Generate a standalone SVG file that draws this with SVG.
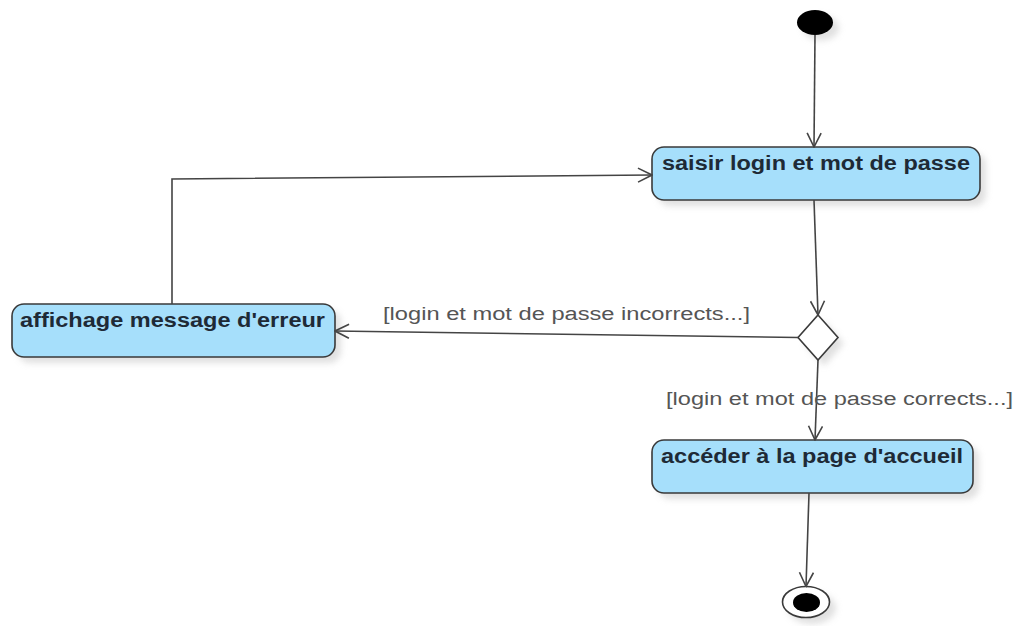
<svg xmlns="http://www.w3.org/2000/svg" width="1019" height="626" viewBox="0 0 1019 626">
  <style>
    .act { fill: #a6dffb; stroke: #3a3a3a; stroke-width: 1.6; }
    .shadow { fill: #c8c8c8; opacity: 0.55; filter: url(#soft); }
    .lbl { font-family: "Liberation Sans", Arial, sans-serif; font-weight: bold; font-size: 20px; fill: #1e2a36; }
    .guard { font-family: "Liberation Sans", Arial, sans-serif; font-size: 18px; fill: #555; }
    .edge { fill: none; stroke: #444; stroke-width: 1.6; marker-end: url(#open); }
  </style>
  <defs>
    <filter id="soft" x="-20%" y="-50%" width="140%" height="200%">
      <feGaussianBlur stdDeviation="3"/>
    </filter>
    <marker id="open" viewBox="0 0 16 16" refX="15" refY="8" markerWidth="16" markerHeight="16" markerUnits="userSpaceOnUse" orient="auto">
      <path d="M1 1 L15 8 L1 15" fill="none" stroke="#444" stroke-width="1.6"/>
    </marker>
  </defs>

  <!-- start node -->
  <g id="start">
    <ellipse class="shadow" cx="821" cy="28" rx="18" ry="12.5"/>
    <ellipse cx="815" cy="22.5" rx="18" ry="12.5" fill="#000"/>
  </g>

  <!-- activity: enter credentials -->
  <g id="saisir">
    <rect class="shadow" x="658" y="153" width="328" height="53" rx="12"/>
    <rect class="act" x="652" y="147" width="328" height="53" rx="12"/>
    <text class="lbl" x="662" y="170" textLength="308" lengthAdjust="spacingAndGlyphs">saisir login et mot de passe</text>
  </g>

  <!-- activity: error message -->
  <g id="erreur">
    <rect class="shadow" x="18" y="310" width="323" height="53" rx="12"/>
    <rect class="act" x="12" y="304" width="323" height="53" rx="12"/>
    <text class="lbl" x="20" y="327" textLength="305" lengthAdjust="spacingAndGlyphs">affichage message d'erreur</text>
  </g>

  <!-- decision -->
  <g id="decision">
    <path class="shadow" d="M824 321 L844 343.5 L824 366 L804 343.5 Z"/>
    <path d="M818 315 L838 337.5 L818 360 L798 337.5 Z" fill="#fff" stroke="#3a3a3a" stroke-width="1.6"/>
  </g>

  <!-- activity: home page -->
  <g id="accueil">
    <rect class="shadow" x="658" y="446" width="321" height="53" rx="12"/>
    <rect class="act" x="652" y="440" width="321" height="53" rx="12"/>
    <text class="lbl" x="661" y="463" textLength="302" lengthAdjust="spacingAndGlyphs">accéder à la page d'accueil</text>
  </g>

  <!-- final node -->
  <g id="end">
    <ellipse class="shadow" cx="812" cy="608" rx="24" ry="16"/>
    <ellipse cx="806" cy="602" rx="23.5" ry="15.5" fill="#fff" stroke="#3a3a3a" stroke-width="1.6"/>
    <ellipse cx="806.5" cy="602.5" rx="13.5" ry="9.5" fill="#000"/>
  </g>

  <!-- transitions -->
  <g id="connectors">
    <path class="edge" d="M815 35 L814 147"/>
    <path class="edge" d="M814 200 L818 315"/>
    <path class="edge" d="M798 337.5 L335 331"/>
    <path class="edge" d="M172 304 L172 179 L652 175"/>
    <path class="edge" d="M818 360 L815 440"/>
    <path class="edge" d="M809 493 L806 586.5"/>
    <text class="guard" x="383" y="320" textLength="367" lengthAdjust="spacingAndGlyphs">[login et mot de passe incorrects...]</text>
    <text class="guard" x="666" y="405" textLength="347" lengthAdjust="spacingAndGlyphs">[login et mot de passe corrects...]</text>
  </g>
</svg>
